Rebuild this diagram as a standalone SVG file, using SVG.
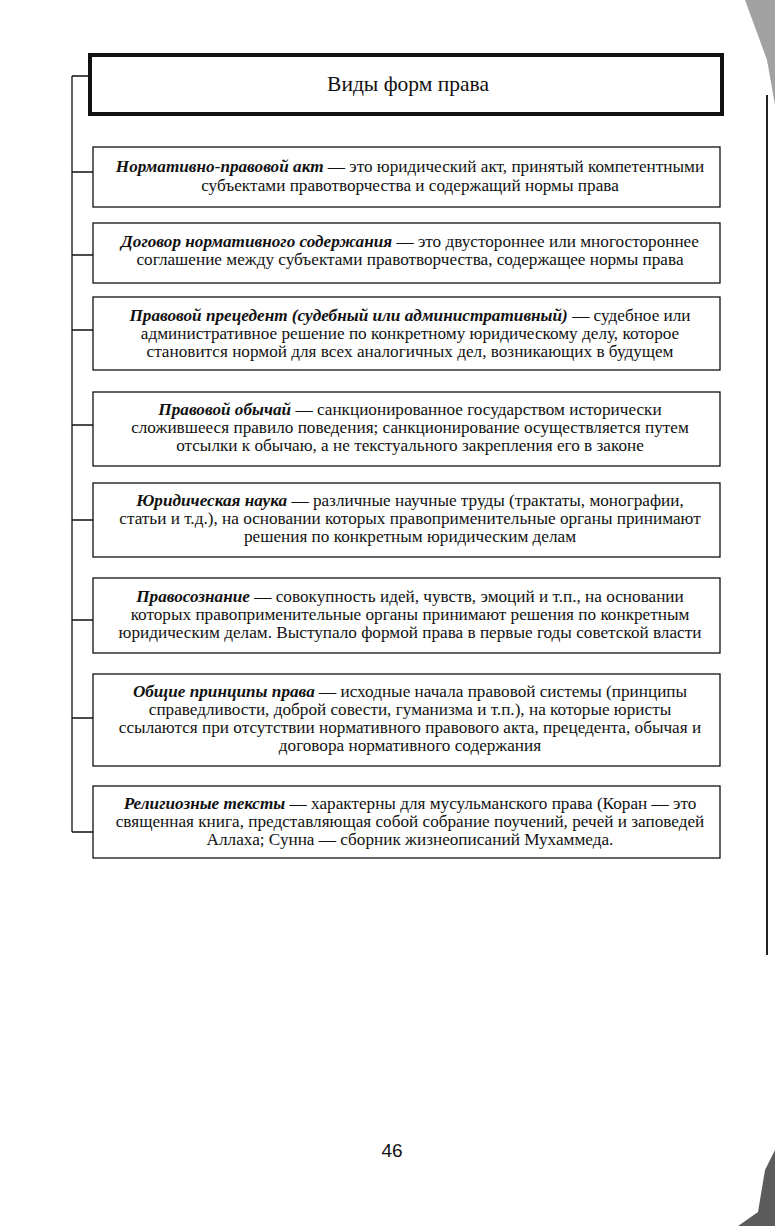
<svg xmlns="http://www.w3.org/2000/svg" width="775" height="1226" viewBox="0 0 775 1226">
<style>
.box{fill:#fff;stroke:#111;stroke-width:1.3}
.title{fill:#fff;stroke:#111;stroke-width:4}
.t{font-family:"Liberation Serif","DejaVu Serif",serif;font-size:17.2px;fill:#111;text-anchor:middle}
.b{font-weight:bold;font-style:italic}
.h{font-family:"Liberation Serif","DejaVu Serif",serif;font-size:21.5px;fill:#111;text-anchor:middle}
.c{fill:none;stroke:#111;stroke-width:1.3}
.pn{font-family:"Liberation Sans",Arial,sans-serif;font-size:19px;fill:#111;text-anchor:middle}
.edge{fill:none;stroke:#222;stroke-width:2}
</style>
<rect width="775" height="1226" fill="#fff"/>
<g id="scan-edge">
<path d="M745 0H775V105L767 60Z" fill="#555" opacity="0.55"/>
<path class="edge" d="M767 95V955"/>
<path d="M738 1226L758 1212L765 1170L775 1150V1226Z" fill="#333" opacity="0.8"/>
</g>
<g id="connectors">
<path class="c" d="M72 76V832M72 76H90M72 172H93M72 255H93M72 330H93M72 425H93M72 520H93M72 620H93M72 718H93M72 832H93"/>
</g>
<g id="title">
<rect class="title" x="90" y="55" width="632" height="59"/>
<text class="h" x="408" y="91">Виды форм права</text>
</g>
<g id="n1">
<rect class="box" x="93" y="147" width="627" height="60"/>
<text class="t" x="410" y="172"><tspan class="b">Нормативно-правовой акт</tspan> — это юридический акт, принятый компетентными</text>
<text class="t" x="410" y="191">субъектами правотворчества и содержащий нормы права</text>
</g>
<g id="n2">
<rect class="box" x="93" y="223" width="627" height="60"/>
<text class="t" x="410" y="247"><tspan class="b">Договор нормативного содержания</tspan> — это двустороннее или многостороннее</text>
<text class="t" x="410" y="265">соглашение между субъектами правотворчества, содержащее нормы права</text>
</g>
<g id="n3">
<rect class="box" x="93" y="297" width="627" height="73"/>
<text class="t" x="410" y="321"><tspan class="b">Правовой прецедент (судебный или административный)</tspan> — судебное или</text>
<text class="t" x="410" y="339">административное решение по конкретному юридическому делу, которое</text>
<text class="t" x="410" y="357">становится нормой для всех аналогичных дел, возникающих в будущем</text>
</g>
<g id="n4">
<rect class="box" x="93" y="392" width="627" height="74"/>
<text class="t" x="410" y="415"><tspan class="b">Правовой обычай</tspan> — санкционированное государством исторически</text>
<text class="t" x="410" y="433">сложившееся правило поведения; санкционирование осуществляется путем</text>
<text class="t" x="410" y="451">отсылки к обычаю, а не текстуального закрепления его в законе</text>
</g>
<g id="n5">
<rect class="box" x="93" y="483" width="627" height="74"/>
<text class="t" x="410" y="506"><tspan class="b">Юридическая наука</tspan> — различные научные труды (трактаты, монографии,</text>
<text class="t" x="410" y="524">статьи и т.д.), на основании которых правоприменительные органы принимают</text>
<text class="t" x="410" y="542">решения по конкретным юридическим делам</text>
</g>
<g id="n6">
<rect class="box" x="93" y="578" width="627" height="75"/>
<text class="t" x="410" y="602"><tspan class="b">Правосознание</tspan> — совокупность идей, чувств, эмоций и т.п., на основании</text>
<text class="t" x="410" y="620">которых правоприменительные органы принимают решения по конкретным</text>
<text class="t" x="410" y="638">юридическим делам. Выступало формой права в первые годы советской власти</text>
</g>
<g id="n7">
<rect class="box" x="93" y="674" width="627" height="92"/>
<text class="t" x="410" y="697"><tspan class="b">Общие принципы права</tspan> — исходные начала правовой системы (принципы</text>
<text class="t" x="410" y="715">справедливости, доброй совести, гуманизма и т.п.), на которые юристы</text>
<text class="t" x="410" y="733">ссылаются при отсутствии нормативного правового акта, прецедента, обычая и</text>
<text class="t" x="410" y="751">договора нормативного содержания</text>
</g>
<g id="n8">
<rect class="box" x="93" y="786" width="627" height="72"/>
<text class="t" x="410" y="809"><tspan class="b">Религиозные тексты</tspan> — характерны для мусульманского права (Коран — это</text>
<text class="t" x="410" y="827">священная книга, представляющая собой собрание поучений, речей и заповедей</text>
<text class="t" x="410" y="845">Аллаха; Сунна — сборник жизнеописаний Мухаммеда.</text>
</g>
<text class="pn" x="392" y="1157">46</text>
</svg>
